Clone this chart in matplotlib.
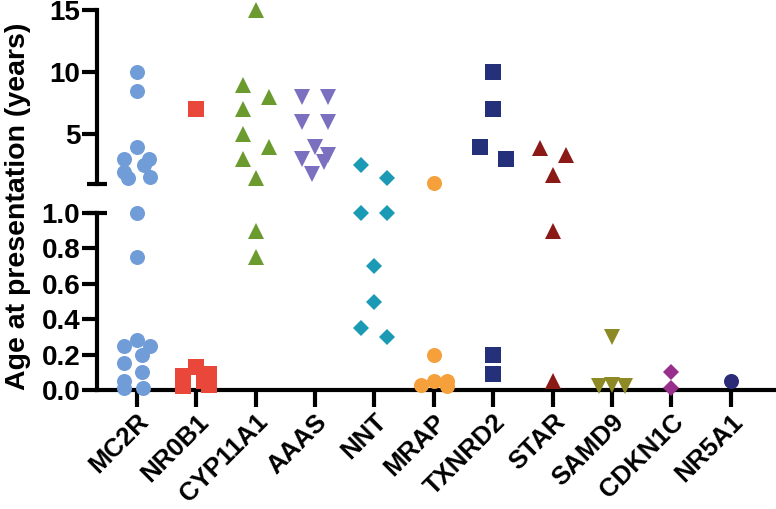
import numpy as np
import matplotlib
matplotlib.use("Agg")
import matplotlib.pyplot as plt

plt.rcParams['font.family'] = ['Liberation Sans', 'DejaVu Sans']
plt.rcParams['font.weight'] = 'bold'

genes = ["MC2R", "NR0B1", "CYP11A1", "AAAS", "NNT", "MRAP",
         "TXNRD2", "STAR", "SAMD9", "CDKN1C", "NR5A1"]

# edad de presentacion (anos) de cada paciente, por gen
mc2r = [10, 8.5, 4, 3, 3, 2.5, 2, 1.6, 1.5,
        1.0, 0.75, 0.28, 0.25, 0.25, 0.2, 0.15, 0.1, 0.05, 0.01, 0.01]
nr0b1 = [7, 0.13, 0.09, 0.08, 0.05, 0.04, 0.03, 0.02]
cyp11a1 = [15, 9, 8, 7, 5, 4, 3, 1.5, 0.9, 0.75]
aaas = [8, 8, 6, 6, 4, 3.3, 3, 2.8, 1.8]
nnt = [2.5, 1.5, 1.0, 1.0, 0.7, 0.5, 0.35, 0.3]
mrap = [1.1, 0.2, 0.05, 0.05, 0.03, 0.02]
txnrd2 = [10, 7, 4, 3, 0.2, 0.09]
star = [3.9, 3.3, 1.7, 0.9, 0.05]
samd9 = [0.3, 0.03, 0.02, 0.02]
cdkn1c = [0.1, 0.01]
nr5a1 = [0.05]

edades = [mc2r, nr0b1, cyp11a1, aaas, nnt, mrap, txnrd2, star, samd9, cdkn1c, nr5a1]

colores = ["#709CD8", "#E8473A", "#6B9A2F", "#7B70C0", "#1A9AB4", "#F5A03A",
           "#25307A", "#8B1A16", "#8D8A25", "#982F8C", "#2B2B78"]
marcadores = ["o", "s", "^", "v", "D", "o", "s", "^", "v", "D", "o"]
tamanos = {"o": 10.8, "s": 11.5, "^": 11.8, "v": 11.8, "D": 8.2}

fig = plt.figure(figsize=(7.76, 5.09), dpi=100)
izq, ancho = 97 / 776, 679 / 776
ax_sup = fig.add_axes([izq, 1 - 184 / 509, ancho, 174 / 509])
ax_inf = fig.add_axes([izq, 1 - 390 / 509, ancho, 177 / 509])

xlim = (-0.67, 10.76)
for ax in (ax_sup, ax_inf):
    ax.set_xlim(*xlim)
    for s in ("top", "right"):
        ax.spines[s].set_visible(False)
    for s in ("left", "bottom"):
        ax.spines[s].set_linewidth(3)
    ax.tick_params(width=3, length=11, labelsize=20, pad=1)
ax_sup.set_ylim(1, 15)
ax_inf.set_ylim(0, 1)
ax_sup.spines["bottom"].set_visible(False)
ax_sup.set_xticks([])
ax_sup.set_yticks([5, 10, 15])
ax_inf.set_yticks(np.arange(0, 1.01, 0.2))
ax_inf.set_yticklabels([f"{v:.1f}" for v in np.arange(0, 1.01, 0.2)])
ax_inf.set_xticks(range(len(genes)))
ax_inf.set_xticklabels(genes, rotation=45, ha="right", va="top",
                       rotation_mode="anchor", fontsize=18.5)
ax_inf.tick_params(axis="x", length=12, pad=2)

# marcas del corte del eje
ax_sup.plot([0], [0], marker="_", ms=14, mew=3, color="k",
            transform=ax_sup.transAxes, clip_on=False)
ax_inf.plot([0], [1], marker="_", ms=14, mew=3, color="k",
            transform=ax_inf.transAxes, clip_on=False)

# separacion horizontal tipo "swarm" (en pixeles) para que no se tapen los puntos
px_por_x = ax_inf.transData.transform((1, 0))[0] - ax_inf.transData.transform((0, 0))[0]


def swarm(py, wx=22, wy=15, tope=13, paso=0.5):
    offs = np.zeros(len(py))
    puestos = []
    orden = np.argsort(-py, kind="stable")
    cands = np.arange(-tope, tope + paso / 2, paso)
    cands = cands[np.lexsort((-cands, np.abs(cands)))]
    for i in orden:
        mejor, pen_min = 0.0, np.inf
        for c in cands:
            pen = 0.0
            for ox, oy in puestos:
                r = np.hypot((c - ox) / wx, (py[i] - oy) / wy)
                pen += max(0.0, 1 - r)
            if pen < pen_min - 1e-9:
                mejor, pen_min = c, pen
            if pen == 0:
                break
        offs[i] = mejor
        puestos.append((mejor, py[i]))
    # centrar (y abrir un poco) cada grupo de puntos cercanos
    grupos, grupo = [], [orden[0]]
    for a, b in zip(orden[:-1], orden[1:]):
        if py[a] - py[b] < wy:
            grupo.append(b)
        else:
            grupos.append(grupo)
            grupo = [b]
    grupos.append(grupo)
    for g in grupos:
        o = offs[g]
        span = o.max() - o.min()
        o = o - (o.max() + o.min()) / 2
        if 0 < span < 2 * tope:
            o = o * (2 * tope / span)
        offs[g] = o
    return offs


for i, vals in enumerate(edades):
    vals = np.array(vals, dtype=float)
    arriba = vals > 1
    py = np.array([(ax_sup if a else ax_inf).transData.transform((0, v))[1]
                   for v, a in zip(vals, arriba)])
    dx = swarm(py) / px_por_x
    m = marcadores[i]
    for ax, sel in ((ax_sup, arriba), (ax_inf, ~arriba)):
        if sel.any():
            ax.plot(i + dx[sel], vals[sel], linestyle="none", marker=m,
                    ms=tamanos[m], mew=0, color=colores[i],
                    clip_on=False, zorder=3)

fig.text(18 / 776, 1 - 206 / 509, "Age at presentation (years)", rotation=90,
         ha="center", va="center", fontsize=20.5, fontweight="bold")

fig.savefig("out.png", dpi=100)
